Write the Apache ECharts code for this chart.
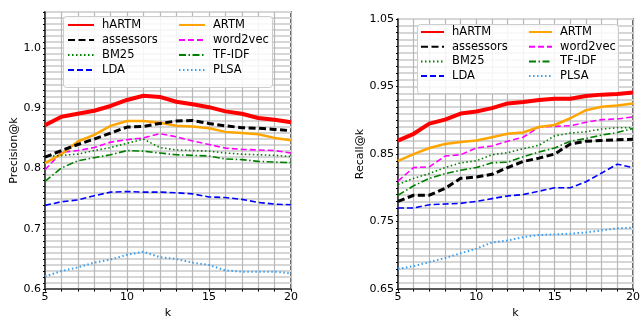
<!DOCTYPE html>
<html><head><meta charset="utf-8">
<script src="https://cdn.jsdelivr.net/npm/echarts@6/dist/echarts.min.js"></script>
<style>html,body{margin:0;padding:0;background:#fff}#c{width:643px;height:324px}</style>
</head><body><div id="c"></div>
<script>
const ks = [5,6,7,8,9,10,11,12,13,14,15,16,17,18,19,20];
const seriesNames = ['hARTM','assessors','BM25','LDA','ARTM','word2vec','TF-IDF','PLSA'];
// Precision@k
const precHARTM    = [0.872,0.886,0.891,0.896,0.904,0.914,0.921,0.919,0.911,0.907,0.902,0.895,0.891,0.884,0.881,0.877];
const precAssess   = [0.819,0.830,0.840,0.849,0.859,0.869,0.870,0.875,0.879,0.880,0.875,0.871,0.868,0.867,0.865,0.863];
const precBM25     = [0.820,0.822,0.824,0.830,0.835,0.842,0.849,0.835,0.831,0.830,0.829,0.826,0.824,0.823,0.822,0.820];
const precLDA      = [0.739,0.745,0.748,0.755,0.761,0.762,0.761,0.761,0.760,0.758,0.753,0.752,0.749,0.744,0.741,0.740];
const precARTM     = [0.809,0.824,0.845,0.856,0.871,0.879,0.879,0.876,0.871,0.870,0.867,0.861,0.859,0.857,0.851,0.847];
const precW2V      = [0.798,0.827,0.830,0.835,0.844,0.848,0.851,0.858,0.853,0.846,0.840,0.834,0.832,0.831,0.830,0.826];
const precTFIDF    = [0.779,0.801,0.813,0.818,0.823,0.830,0.829,0.826,0.823,0.822,0.821,0.816,0.815,0.812,0.811,0.810];
const precPLSA     = [0.621,0.630,0.636,0.644,0.649,0.657,0.662,0.653,0.650,0.644,0.640,0.631,0.629,0.629,0.629,0.626];
// Recall@k
const recHARTM     = [0.870,0.880,0.895,0.901,0.910,0.913,0.918,0.925,0.927,0.930,0.932,0.932,0.936,0.938,0.939,0.941];
const recAssess    = [0.780,0.789,0.789,0.799,0.814,0.816,0.820,0.830,0.839,0.844,0.850,0.865,0.869,0.870,0.871,0.872];
const recBM25      = [0.805,0.814,0.821,0.830,0.837,0.840,0.849,0.852,0.858,0.863,0.877,0.881,0.883,0.887,0.889,0.889];
const recLDA       = [0.770,0.770,0.775,0.776,0.777,0.780,0.784,0.788,0.790,0.795,0.800,0.800,0.809,0.822,0.835,0.830];
const recARTM      = [0.840,0.850,0.859,0.865,0.868,0.870,0.875,0.880,0.882,0.890,0.893,0.903,0.915,0.920,0.922,0.925];
const recW2V       = [0.810,0.830,0.831,0.847,0.849,0.859,0.862,0.869,0.875,0.890,0.891,0.892,0.897,0.901,0.902,0.905];
const recTFIDF     = [0.789,0.803,0.814,0.821,0.826,0.830,0.837,0.838,0.846,0.853,0.859,0.869,0.873,0.878,0.882,0.888];
const recPLSA      = [0.680,0.684,0.690,0.696,0.703,0.710,0.719,0.722,0.727,0.730,0.731,0.732,0.734,0.737,0.740,0.741];
const xTickLabels = [5,10,15,20];
const precTickLabels = ['0.6','0.7','0.8','0.9','1.0'];
const recTickLabels = ['0.65','0.75','0.85','0.95','1.05'];

const FONT = 'DejaVu Sans';
const styles = {
  'hARTM':    {color:'#ff0000', width:4,   type:'solid'},
  'assessors':{color:'#000000', width:3,   type:[7,3.5]},
  'BM25':     {color:'#008000', width:1.6, type:[1.5,2.5]},
  'LDA':      {color:'#0000ff', width:1.6, type:[6,3]},
  'ARTM':     {color:'#ffa500', width:2.5, type:'solid'},
  'word2vec': {color:'#ff00ff', width:1.6, type:[6,3]},
  'TF-IDF':   {color:'#008000', width:1.6, type:[7,2.5,1.5,2.5]},
  'PLSA':     {color:'#3a9ff0', width:2,   type:[1.5,2.5]}
};
const precData = [precHARTM,precAssess,precBM25,precLDA,precARTM,precW2V,precTFIDF,precPLSA];
const recData  = [recHARTM,recAssess,recBM25,recLDA,recARTM,recW2V,recTFIDF,recPLSA];

function mkSeries(arr, idx){
  return seriesNames.map((n,i)=>({
    name:n, type:'line', xAxisIndex:idx, yAxisIndex:idx,
    showSymbol:false, symbol:'none', symbolSize:0, animation:false, z: 10 - i,
    data: ks.map((k,j)=>[k, arr[i][j]]),
    lineStyle:{color:styles[n].color, width:styles[n].width, type:styles[n].type, cap:'butt'},
    itemStyle:{color:styles[n].color}
  }));
}
function xAx(gi, name, gap){
  return {type:'value', gridIndex:gi, min:5, max:20, interval:1,
    name:name, nameLocation:'middle', nameGap:gap,
    nameTextStyle:{fontFamily:FONT, fontSize:11, color:'#000'},
    axisLine:{show:true, lineStyle:{color:'#333', width:1.5}},
    axisTick:{show:true, length:2.5, lineStyle:{color:'#000'}},
    axisLabel:{fontFamily:FONT, fontSize:11, color:'#000', margin:3,
      formatter:v=> xTickLabels.indexOf(Math.round(v))>=0 && Math.abs(v-Math.round(v))<1e-6 ? String(Math.round(v)) : ''},
    splitLine:{show:true, lineStyle:{color:'#b8b8b8', width:1.2}}};
}
function yAx(gi, min, max, labels, base, name, gap){
  return {type:'value', gridIndex:gi, min:min, max:max, interval:0.01,
    name:name, nameLocation:'middle', nameGap:gap,
    nameTextStyle:{fontFamily:FONT, fontSize:11, color:'#000'},
    axisLine:{show:true, lineStyle:{color:'#333', width:1.5}},
    axisTick:{show:true, length:2, lineStyle:{color:'#000'}},
    axisLabel:{fontFamily:FONT, fontSize:11, color:'#000', margin:4, showMaxLabel:true,
      formatter:v=>{ const s=(v-base)/0.1; const r=Math.round(s);
        if (Math.abs(s-r)<1e-4 && r>=0 && r<labels.length) return labels[r]; return ''; }},
    splitLine:{show:true, lineStyle:{color:'#d6d6d6', width:1.8}}};
}
function legends(col1x, col2x, top, gap, w){
  const base = {orient:'vertical', top:top, itemGap:gap, itemWidth:w, itemHeight:14, padding:0,
    itemStyle:{opacity:0, borderWidth:0},
    textStyle:{fontFamily:FONT, fontSize:11.5, color:'#000', padding:[0,0,0,3]}, selectedMode:false};
  return [Object.assign({left:col1x, data:['hARTM','assessors','BM25','LDA']}, base),
          Object.assign({left:col2x, data:['ARTM','word2vec','TF-IDF','PLSA']}, base)];
}
const chart = echarts.init(document.getElementById('c'), null, {renderer:'canvas'});
chart.setOption({
  animation:false,
  backgroundColor:'#fff',
  grid:[
    {left:45, top:12, right:352, bottom:25, show:true, borderColor:'#333', borderWidth:1.5, backgroundColor:'transparent'},
    {left:398, top:19, right:6, bottom:25, show:true, borderColor:'#333', borderWidth:1.5, backgroundColor:'transparent'}
  ],
  xAxis:[xAx(0,'k',16), xAx(1,'k',16)],
  yAxis:[yAx(0,0.6,1.06,precTickLabels,0.6,'Precision@k',25), yAx(1,0.65,1.05,recTickLabels,0.65,'Recall@k',31)],
  legend:[].concat(legends(67,178,19,3,26), legends(420,528,26,2.7,23)),
  graphic:[
    {type:'rect', z:3, shape:{x:63.5, y:16.5, width:209, height:71, r:3}, style:{fill:'rgba(255,255,255,0.85)', stroke:'#cccccc', lineWidth:1}},
    {type:'rect', z:3, shape:{x:417.5, y:24.5, width:201, height:69, r:3}, style:{fill:'rgba(255,255,255,0.85)', stroke:'#cccccc', lineWidth:1}}
  ],
  series:[].concat(mkSeries(precData,0), mkSeries(recData,1))
});
</script></body></html>
